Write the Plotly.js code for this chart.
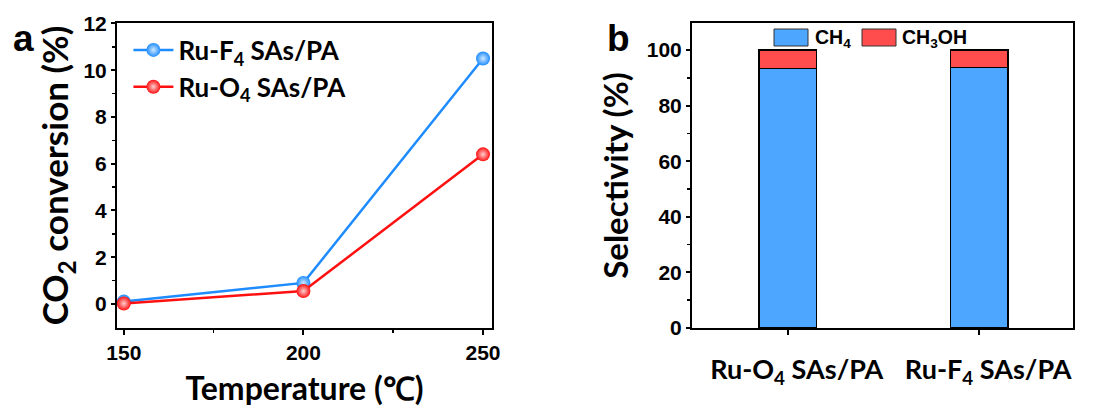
<!DOCTYPE html>
<html><head><meta charset="utf-8">
<script src="https://cdn.plot.ly/plotly-3.0.1.min.js"></script>
<style>html,body{margin:0;padding:0;background:#fff}#c{width:1107px;height:408px}</style>
</head><body><div id="c"></div>
<script>
// Panel a data
const temperatures = [150, 200, 250];
const ruF4Conversion = [0.1, 0.9, 10.5];
const ruO4Conversion = [0.02, 0.55, 6.4];
// Panel b data
const catalysts = ['Ru-O<sub>4</sub> SAs/PA', 'Ru-F<sub>4</sub> SAs/PA'];
const ch4Selectivity = [93.4, 93.8];
const ch3ohSelectivity = [6.6, 6.2];

const tickFont = {family: 'Liberation Sans, Arial', size: 21, color: '#000', weight: 700};
const legFont = {family: 'Lato, Open Sans', size: 26, color: '#000', weight: 700};

const traces = [
  {x: temperatures, y: ruF4Conversion, type: 'scatter', mode: 'lines+markers', name: 'Ru-F<sub>4</sub> SAs/PA',
   line: {color: '#1E8CFF', width: 2.5},
   marker: {size: 14, color: '#1E8CFF', gradient: {type: 'radial', color: '#cfe8ff'}, line: {width: 0}},
   xaxis: 'x', yaxis: 'y', legend: 'legend'},
  {x: temperatures, y: ruO4Conversion, type: 'scatter', mode: 'lines+markers', name: 'Ru-O<sub>4</sub> SAs/PA',
   line: {color: '#FF1010', width: 2.5},
   marker: {size: 14, color: '#FF1010', gradient: {type: 'radial', color: '#ffcfcf'}, line: {width: 0}},
   xaxis: 'x', yaxis: 'y', legend: 'legend'},
  {x: [0, 1], y: ch4Selectivity, type: 'bar', name: 'CH<sub>4</sub>', width: 0.3,
   marker: {color: '#4DA6FF', line: {color: '#000', width: 1.2}}, xaxis: 'x2', yaxis: 'y2', showlegend: false},
  {x: [0, 1], y: ch3ohSelectivity, type: 'bar', name: 'CH<sub>3</sub>OH', width: 0.3,
   marker: {color: '#FF4D4D', line: {color: '#000', width: 1.2}}, xaxis: 'x2', yaxis: 'y2', showlegend: false}
];

const yTop = 1 - 23/408, yBot = 1 - 328/408;
const axBase = {showline: true, linewidth: 2, linecolor: '#000', mirror: true, showgrid: false, zeroline: false,
                ticks: 'outside', ticklen: 5, tickwidth: 2, tickcolor: '#000', tickfont: tickFont};
const layout = {
  width: 1107, height: 408, margin: {l: 0, r: 0, t: 0, b: 0},
  paper_bgcolor: '#fff', plot_bgcolor: '#fff',
  barmode: 'stack', showlegend: true,
  legend: {x: 0.116, y: 0.935, xanchor: 'left', yanchor: 'top', bgcolor: 'rgba(0,0,0,0)',
           font: legFont, tracegroupgap: 0, itemwidth: 40, traceorder: 'normal'},
  xaxis: Object.assign({}, axBase, {domain: [117/1107, 492/1107], range: [148.1, 252.5], tickvals: [150, 200, 250], anchor: 'y',
          minor: {tickvals: [175, 225], ticks: 'outside', ticklen: 3, tickwidth: 1.5, tickcolor: '#000'},
          title: {text: 'Temperature (℃)', font: {family: 'Lato, Open Sans', size: 32, color: '#000', weight: 700}, standoff: 14}}),
  yaxis: Object.assign({}, axBase, {domain: [yBot, yTop], range: [-1.03, 12.02], tickvals: [0, 2, 4, 6, 8, 10, 12], anchor: 'x',
          ticklen: 4,
          minor: {tickvals: [1, 3, 5, 7, 9, 11], ticks: 'outside', ticklen: 3, tickwidth: 1.5, tickcolor: '#000'},
          title: {text: 'CO<sub>2</sub> conversion (%)', font: {family: 'Lato, Open Sans', size: 35, color: '#000', weight: 700}, standoff: 4}}),
  xaxis2: Object.assign({}, axBase, {domain: [692/1107, 1073/1107], range: [-0.5, 1.49], tickvals: [0, 1], ticktext: catalysts, anchor: 'y2',
          ticklabelstandoff: 12, ticklabelshift: 9,
          tickfont: {family: 'Lato, Open Sans', size: 27, color: '#000', weight: 700}}),
  yaxis2: Object.assign({}, axBase, {domain: [yBot, yTop], range: [0, 109.7], tickvals: [0, 20, 40, 60, 80, 100], anchor: 'x2',
          ticklen: 4,
          minor: {tickvals: [10, 30, 50, 70, 90], ticks: 'outside', ticklen: 3, tickwidth: 1.5, tickcolor: '#000'},
          title: {text: 'Selectivity (%)', font: {family: 'Lato, Open Sans', size: 33, color: '#000', weight: 700}, standoff: 8}}),
  shapes: [
    {type: 'rect', xref: 'paper', yref: 'paper', x0: 774/1107, x1: 808/1107, y0: 1-46/408, y1: 1-29/408,
     fillcolor: '#4DA6FF', line: {color: '#333', width: 1}},
    {type: 'rect', xref: 'paper', yref: 'paper', x0: 862/1107, x1: 896/1107, y0: 1-46/408, y1: 1-29/408,
     fillcolor: '#FF4D4D', line: {color: '#333', width: 1}}
  ],
  annotations: [
    {text: 'a', xref: 'paper', yref: 'paper', x: 11/1107, y: 1-38/408, xanchor: 'left', yanchor: 'middle',
     showarrow: false, font: {family: 'Liberation Sans, Arial', size: 37, color: '#000', weight: 700}},
    {text: 'b', xref: 'paper', yref: 'paper', x: 605/1107, y: 1-38/408, xanchor: 'left', yanchor: 'middle',
     showarrow: false, font: {family: 'Liberation Sans, Arial', size: 37, color: '#000', weight: 700}},
    {text: 'CH<sub>4</sub>', xref: 'paper', yref: 'paper', x: 813/1107, y: 1-38/408, xanchor: 'left', yanchor: 'middle',
     showarrow: false, font: {family: 'Liberation Sans, Arial', size: 19.5, color: '#000', weight: 700}},
    {text: 'CH<sub>3</sub>OH', xref: 'paper', yref: 'paper', x: 900/1107, y: 1-38/408, xanchor: 'left', yanchor: 'middle',
     showarrow: false, font: {family: 'Liberation Sans, Arial', size: 19.5, color: '#000', weight: 700}}
  ]
};
Plotly.newPlot('c', traces, layout, {displayModeBar: false, staticPlot: true});
</script></body></html>
